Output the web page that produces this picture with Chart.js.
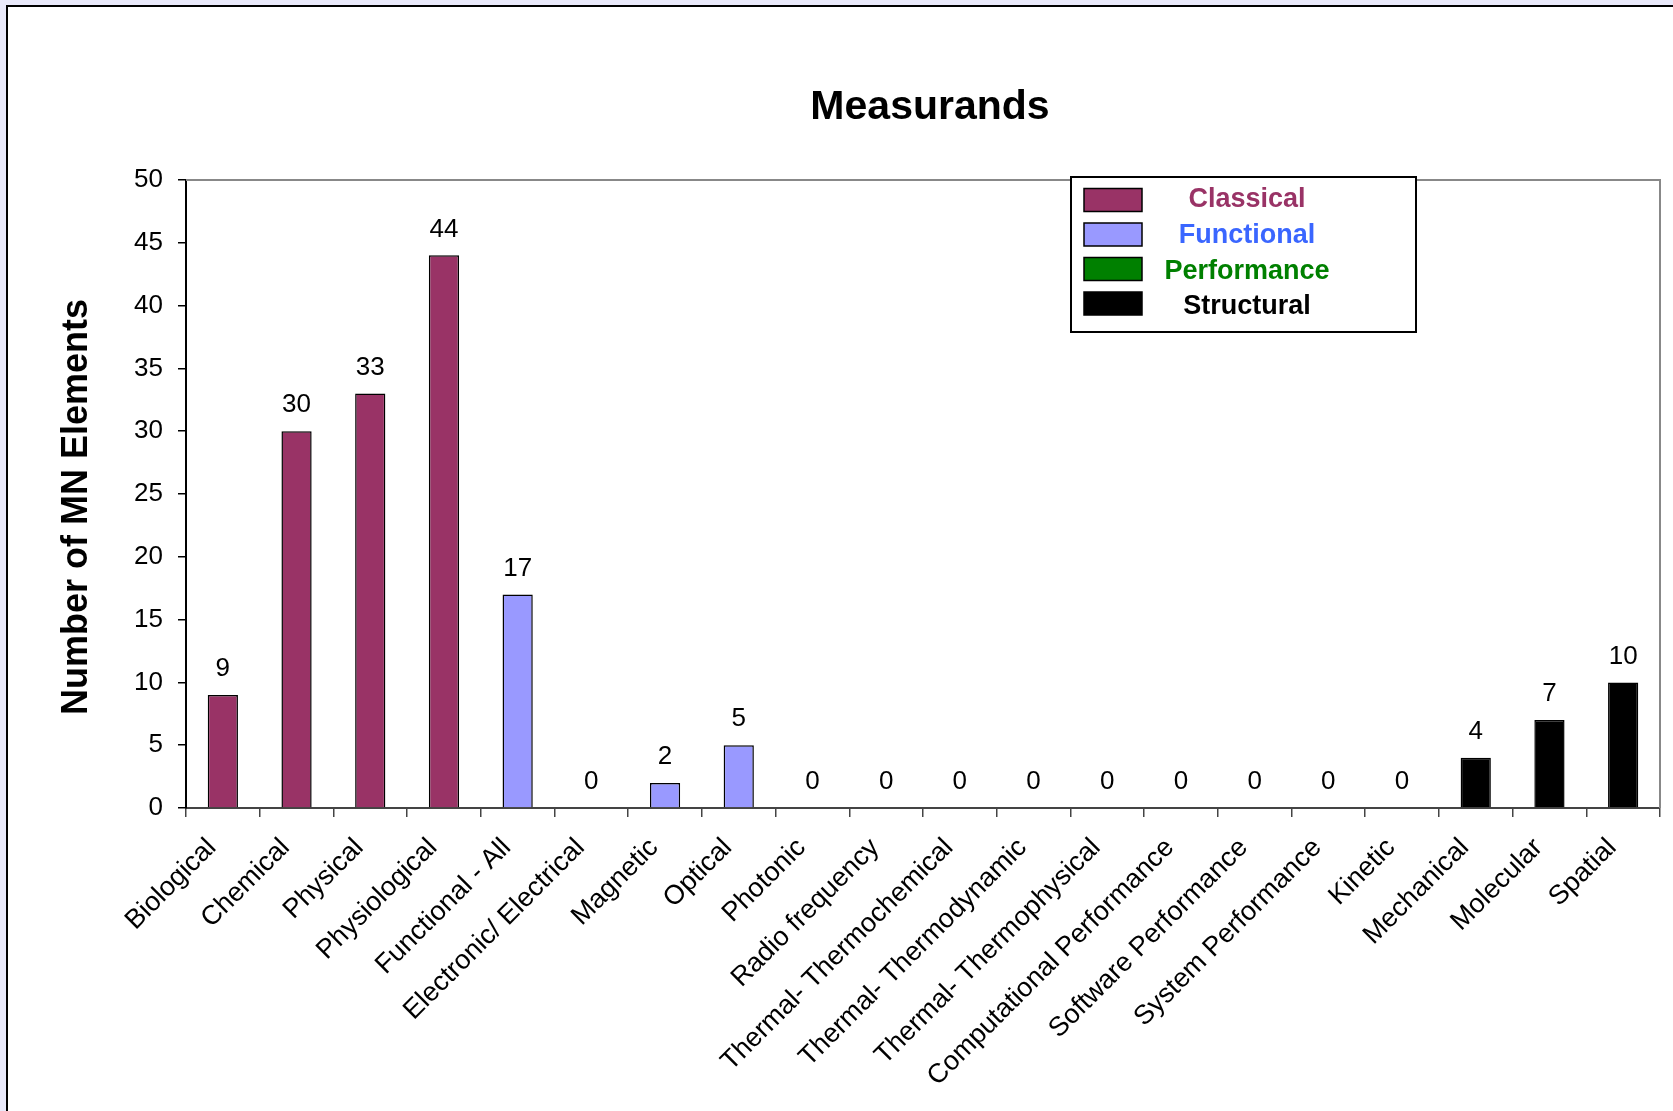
<!DOCTYPE html>
<html>
<head>
<meta charset="utf-8">
<script src="https://cdn.jsdelivr.net/npm/chart.js@4.4.1/dist/chart.umd.min.js"></script>
<style>
  body { margin: 0; background: #e9e9fa; overflow: hidden; }
  #frame {
    position: absolute; left: 6px; top: 5px;
    width: 1720px; height: 1160px;
    background: #fff; border: 2px solid #000;
  }
  #myChart { position: absolute; left: 0; top: 0; }
</style>
</head>
<body>
<div id="frame"></div>
<canvas id="myChart" width="1673" height="1111"></canvas>
<script>
// data
const categories = [
  "Biological", "Chemical", "Physical", "Physiological",
  "Functional - All", "Electronic/ Electrical", "Magnetic", "Optical", "Photonic",
  "Radio frequency", "Thermal- Thermochemical", "Thermal- Thermodynamic", "Thermal- Thermophysical",
  "Computational Performance", "Software Performance", "System Performance",
  "Kinetic", "Mechanical", "Molecular", "Spatial"
];
const classicalValues   = [9, 30, 33, 44, null, null, null, null, null, null, null, null, null, null, null, null, null, null, null, null];
const functionalValues  = [null, null, null, null, 17, 0, 2, 5, 0, 0, 0, 0, 0, null, null, null, null, null, null, null];
const performanceValues = [null, null, null, null, null, null, null, null, null, null, null, null, null, 0, 0, 0, null, null, null, null];
const structuralValues  = [null, null, null, null, null, null, null, null, null, null, null, null, null, null, null, null, 0, 4, 7, 10];
const seriesNames = ["Classical", "Functional", "Performance", "Structural"];
const yTicks = [0, 5, 10, 15, 20, 25, 30, 35, 40, 45, 50];

const barColors = ["#993366", "#9999ff", "#008000", "#000000"];
const legendTextColors = ["#993366", "#3a66ff", "#008000", "#000000"];
const FONT = "'Liberation Sans', Arial, sans-serif";

const ctx = document.getElementById("myChart");

// title, y title, plot border, value labels and the boxed legend
const decorations = {
  id: "decorations",
  afterDatasetsDraw(chart) {
    const c = chart.ctx;
    const area = chart.chartArea;
    c.save();

    // grey top and right border of the plot
    c.strokeStyle = "#888";
    c.lineWidth = 2;
    c.beginPath();
    c.moveTo(area.left, area.top);
    c.lineTo(area.right, area.top);
    c.lineTo(area.right, area.bottom);
    c.stroke();

    // value labels above the bars
    c.fillStyle = "#000";
    c.font = "26px " + FONT;
    c.textAlign = "center";
    c.textBaseline = "middle";
    chart.data.datasets.forEach((ds, i) => {
      const meta = chart.getDatasetMeta(i);
      meta.data.forEach((bar, j) => {
        const v = ds.data[j];
        if (v === null || v === undefined) return;
        c.fillText(String(v), bar.x, bar.y - 26);
      });
    });

    // chart title
    c.font = "bold 41px " + FONT;
    c.fillText("Measurands", 930, 108);

    // y axis title
    c.save();
    c.translate(77, 507);
    c.rotate(-Math.PI / 2);
    c.font = "bold 36px " + FONT;
    c.fillText("Number of MN Elements", 0, 0);
    c.restore();

    // legend box
    const lx = 1071, ly = 177, lw = 345, lh = 155;
    c.fillStyle = "#fff";
    c.fillRect(lx, ly, lw, lh);
    c.strokeStyle = "#000";
    c.lineWidth = 2;
    c.strokeRect(lx, ly, lw, lh);
    c.font = "bold 27px " + FONT;
    chart.data.datasets.forEach((ds, i) => {
      const cy = 200 + i * 34.5;
      c.fillStyle = ds.backgroundColor;
      c.fillRect(1084, cy - 11.5, 58, 23);
      c.lineWidth = 1.5;
      c.strokeStyle = "#000";
      c.strokeRect(1084, cy - 11.5, 58, 23);
      c.fillStyle = legendTextColors[i];
      c.fillText(ds.label, 1247, 200 + i * 35.6);
    });

    c.restore();
  },
};

const seriesData = [classicalValues, functionalValues, performanceValues, structuralValues];

const myChart = new Chart(ctx, {
  type: "bar",
  data: {
    labels: categories,
    datasets: seriesData.map((vals, i) => ({
      label: seriesNames[i],
      data: vals,
      backgroundColor: barColors[i],
      borderColor: "#000",
      borderWidth: 1.5,
      grouped: false,
      categoryPercentage: 1,
      barPercentage: 0.41,
    })),
  },
  options: {
    responsive: false,
    animation: false,
    layout: { padding: { top: 180, right: 13, left: 0, bottom: 0 } },
    plugins: {
      legend: { display: false },
      tooltip: { enabled: false },
      title: { display: false },
    },
    scales: {
      x: {
        grid: { display: true, drawOnChartArea: false, offset: true, tickLength: 9, color: "#444", lineWidth: 1.5 },
        border: { color: "#444", width: 2 },
        ticks: {
          autoSkip: false,
          minRotation: 45,
          maxRotation: 45,
          color: "#000",
          font: { family: FONT, size: 27 },
          padding: 15,
          labelOffset: -11,
        },
        afterFit(scale) { scale.height = 303; },
      },
      y: {
        min: 0,
        max: 50,
        afterBuildTicks(scale) { scale.ticks = yTicks.map((v) => ({ value: v })); },
        grid: { display: true, drawOnChartArea: false, tickLength: 8, color: "#000", lineWidth: 1.5 },
        border: { color: "#000", width: 2 },
        ticks: {
          color: "#000",
          font: { family: FONT, size: 26 },
          padding: 15,
        },
        afterFit(scale) { scale.width = 186; },
      },
    },
  },
  plugins: [decorations],
});
</script>
</body>
</html>
